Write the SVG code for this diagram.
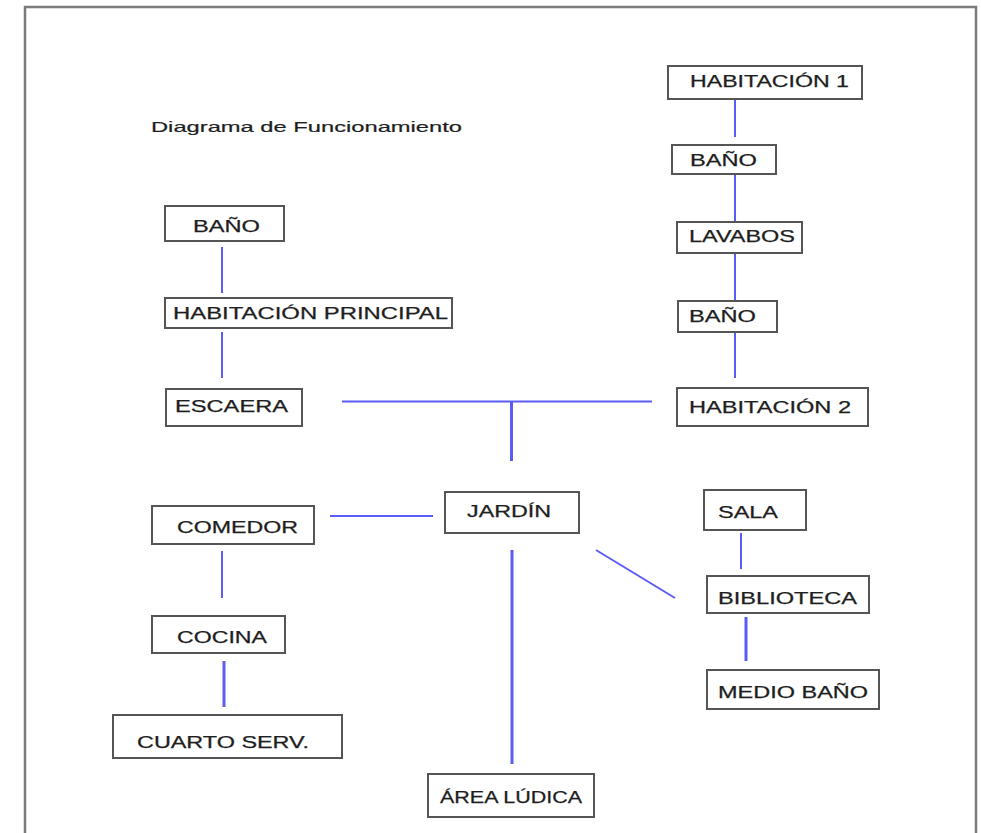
<svg xmlns="http://www.w3.org/2000/svg" width="981" height="833" viewBox="0 0 981 833">
  <style>
    .frame { fill: none; stroke: #7a7a7a; stroke-width: 2.5; }
    .box { fill: #ffffff; stroke: #555555; stroke-width: 2; }
    .lbl { font-family: "Liberation Sans", Arial, sans-serif; font-size: 16px; fill: #1e1e1e; stroke: #1e1e1e; stroke-width: 0.25; }
    .title { font-family: "Liberation Sans", Arial, sans-serif; font-size: 15px; fill: #1e1e1e; stroke: #1e1e1e; stroke-width: 0.2; }
    .link { stroke: #5b5bf5; stroke-width: 2; fill: none; }
    .thick { stroke-width: 3; }
  </style>

  <rect width="981" height="833" fill="#ffffff"/>

  <!-- sheet border (open at the bottom) -->
  <path class="frame" d="M25,840 V7 H976 V840"/>

  <text class="title" x="151" y="132" textLength="311" lengthAdjust="spacingAndGlyphs">Diagrama de Funcionamiento</text>

  <!-- connectors -->
  <g id="connectors">
    <line class="link" x1="735" y1="99" x2="735" y2="137"/>
    <line class="link" x1="735" y1="174" x2="735" y2="222"/>
    <line class="link" x1="735" y1="253" x2="735" y2="302"/>
    <line class="link" x1="735" y1="332" x2="735" y2="378"/>
    <line class="link" x1="222" y1="247" x2="222" y2="293"/>
    <line class="link" x1="222" y1="332" x2="222" y2="378"/>
    <line class="link" x1="342" y1="401.5" x2="652" y2="401.5"/>
    <line class="link thick" x1="511.5" y1="401" x2="511.5" y2="461"/>
    <line class="link" x1="330" y1="516" x2="433" y2="516"/>
    <line class="link thick" x1="512" y1="550" x2="512" y2="764"/>
    <line class="link" x1="222" y1="551" x2="222" y2="598"/>
    <line class="link thick" x1="224" y1="661" x2="224" y2="707"/>
    <line class="link" x1="596" y1="550" x2="675" y2="598"/>
    <line class="link" x1="741" y1="533" x2="741" y2="569"/>
    <line class="link thick" x1="746" y1="617" x2="746" y2="661"/>
  </g>

  <!-- nodes -->
  <g id="habitacion1">
    <rect class="box" x="668" y="66" width="194" height="33"/>
    <text class="lbl" x="690" y="87" textLength="159" lengthAdjust="spacingAndGlyphs">HABITACIÓN 1</text>
  </g>
  <g id="bano-sup">
    <rect class="box" x="672" y="145" width="104" height="29"/>
    <text class="lbl" x="690" y="166" textLength="67" lengthAdjust="spacingAndGlyphs">BAÑO</text>
  </g>
  <g id="lavabos">
    <rect class="box" x="677" y="222" width="125" height="31"/>
    <text class="lbl" x="689" y="242" textLength="106" lengthAdjust="spacingAndGlyphs">LAVABOS</text>
  </g>
  <g id="bano-inf">
    <rect class="box" x="678" y="301" width="99" height="31"/>
    <text class="lbl" x="689" y="322" textLength="67" lengthAdjust="spacingAndGlyphs">BAÑO</text>
  </g>
  <g id="habitacion2">
    <rect class="box" x="677" y="388" width="191" height="38"/>
    <text class="lbl" x="689" y="413" textLength="162" lengthAdjust="spacingAndGlyphs">HABITACIÓN 2</text>
  </g>
  <g id="bano-principal">
    <rect class="box" x="165" y="206" width="119" height="35"/>
    <text class="lbl" x="193" y="232" textLength="67" lengthAdjust="spacingAndGlyphs">BAÑO</text>
  </g>
  <g id="habitacion-principal">
    <rect class="box" x="165" y="298" width="287" height="30"/>
    <text class="lbl" x="173" y="319" textLength="275" lengthAdjust="spacingAndGlyphs">HABITACIÓN PRINCIPAL</text>
  </g>
  <g id="escaera">
    <rect class="box" x="166" y="389" width="136" height="37"/>
    <text class="lbl" x="175" y="412" textLength="113" lengthAdjust="spacingAndGlyphs">ESCAERA</text>
  </g>
  <g id="comedor">
    <rect class="box" x="152" y="506" width="162" height="38"/>
    <text class="lbl" x="177" y="533" textLength="121" lengthAdjust="spacingAndGlyphs">COMEDOR</text>
  </g>
  <g id="jardin">
    <rect class="box" x="445" y="492" width="134" height="41"/>
    <text class="lbl" x="467" y="517" textLength="84" lengthAdjust="spacingAndGlyphs">JARDÍN</text>
  </g>
  <g id="cocina">
    <rect class="box" x="152" y="616" width="133" height="37"/>
    <text class="lbl" x="177" y="643" textLength="90" lengthAdjust="spacingAndGlyphs">COCINA</text>
  </g>
  <g id="cuarto-serv">
    <rect class="box" x="113" y="715" width="229" height="43"/>
    <text class="lbl" x="137" y="748" textLength="172" lengthAdjust="spacingAndGlyphs">CUARTO SERV.</text>
  </g>
  <g id="sala">
    <rect class="box" x="704" y="490" width="102" height="40"/>
    <text class="lbl" x="718" y="518" textLength="60" lengthAdjust="spacingAndGlyphs">SALA</text>
  </g>
  <g id="biblioteca">
    <rect class="box" x="707" y="576" width="162" height="37"/>
    <text class="lbl" x="718" y="604" textLength="139" lengthAdjust="spacingAndGlyphs">BIBLIOTECA</text>
  </g>
  <g id="medio-bano">
    <rect class="box" x="707" y="670" width="172" height="39"/>
    <text class="lbl" x="718" y="698" textLength="150" lengthAdjust="spacingAndGlyphs">MEDIO BAÑO</text>
  </g>
  <g id="area-ludica">
    <rect class="box" x="428" y="774" width="166" height="43"/>
    <text class="lbl" x="440" y="803" textLength="142" lengthAdjust="spacingAndGlyphs">ÁREA LÚDICA</text>
  </g>
</svg>
